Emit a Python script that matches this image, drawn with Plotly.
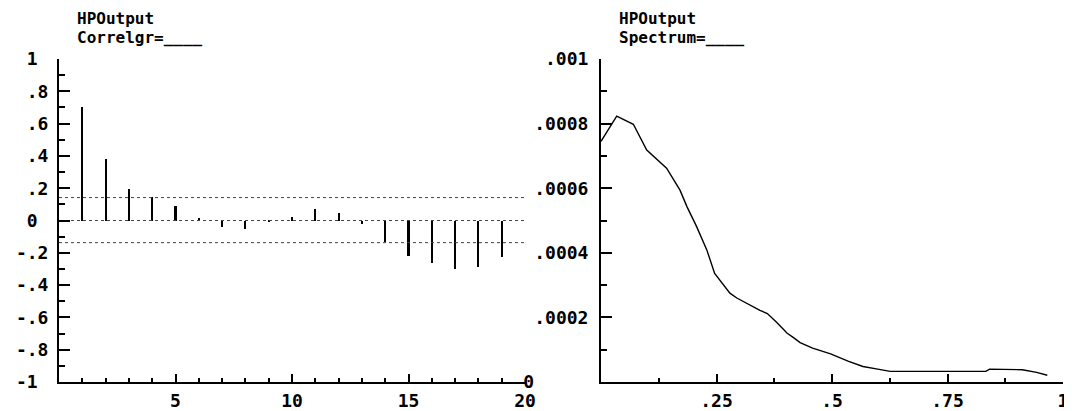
import plotly.graph_objects as go

# ---- data ----
lags = list(range(1, 20))
acf = [0.70, 0.381, 0.192, 0.144, 0.091, 0.016, -0.043, -0.052, -0.004, 0.023,
       0.072, 0.049, -0.021, -0.134, -0.221, -0.266, -0.299, -0.287, -0.229]
band_upper = 0.142
band_lower = -0.137

freq = [0.0, 0.034, 0.070, 0.099, 0.142, 0.171, 0.186, 0.207, 0.229, 0.246,
        0.279, 0.294, 0.344, 0.360, 0.380, 0.403, 0.416, 0.431, 0.458, 0.497,
        0.536, 0.567, 0.599, 0.626, 0.833, 0.841, 0.912, 0.943, 0.966]
spectrum = [0.000745, 0.000823, 0.000798, 0.000718, 0.000662, 0.000594, 0.000543,
            0.000481, 0.000409, 0.000336, 0.000275, 0.000260, 0.000222, 0.000212,
            0.000185, 0.000151, 0.000138, 0.000122, 0.000105, 0.000087, 0.000064,
            0.000048, 0.000040, 0.000033, 0.000033, 0.000040, 0.000038, 0.000030,
            0.000021]

acf_yticks = [1, 0.8, 0.6, 0.4, 0.2, 0, -0.2, -0.4, -0.6, -0.8, -1]
acf_ylabels = ["1\u00a0", ".8", ".6", ".4", ".2", "0\u00a0", "-.2", "-.4", "-.6", "-.8", "-1\u00a0"]
acf_xticks = [5, 10, 15, 20]
acf_xlabels = ["5", "10", "15", "20"]

spec_yticks = [0, 0.0002, 0.0004, 0.0006, 0.0008, 0.001]
spec_ylabels = ["0" + "\u00a0" * 5, ".0002", ".0004", ".0006", ".0008", ".001"]
spec_xticks = [0.25, 0.5, 0.75, 1]
spec_xlabels = [".25", ".5", ".75", "1"]

title_left = ["HPOutput", "Correlgr=____"]
title_right = ["HPOutput", "Spectrum=____"]

# ---- figure ----
# the page body has an 8px margin, so the figure is drawn 8px in from the window corner
OFF = 8
W, H = 1072 - OFF, 411 - OFF
FONT = dict(family="DejaVu Sans Mono", size=18, color="black", weight="bold")
TFONT = dict(family="DejaVu Sans Mono", size=16, color="black", weight="bold")

def px_x(p):
    return (p - OFF) / W

def px_y(p):
    return 1 - (p - OFF) / H

fig = go.Figure()

fig.add_trace(go.Bar(x=lags, y=acf, width=0.09, marker=dict(color="black", line=dict(width=0)),
                     xaxis="x", yaxis="y", showlegend=False))
for yv in [band_upper, 0, band_lower]:
    fig.add_trace(go.Scatter(x=[0, 20], y=[yv, yv], mode="lines",
                             line=dict(color="#444444", width=1, dash="dot"),
                             xaxis="x", yaxis="y", showlegend=False))

fig.add_trace(go.Scatter(x=freq, y=spectrum, mode="lines",
                         line=dict(color="black", width=1.4),
                         xaxis="x2", yaxis="y2", showlegend=False))

ydom = [px_y(382), px_y(59)]
common = dict(showgrid=False, zeroline=False, showline=True, linecolor="black", linewidth=2,
              ticks="inside", tickcolor="black", tickwidth=2, tickfont=FONT, automargin=False)

fig.update_layout(
    width=W, height=H, margin=dict(l=0, r=0, t=0, b=0, pad=0, autoexpand=False),
    paper_bgcolor="white", plot_bgcolor="white", bargap=0,
    xaxis=dict(domain=[px_x(59), px_x(525)], range=[0, 20], anchor="y",
               tickvals=acf_xticks, ticktext=acf_xlabels, ticklen=8, ticklabelstandoff=1,
               minor=dict(tickvals=list(range(1, 20)), ticklen=4, ticks="inside",
                          tickcolor="black", tickwidth=2),
               **common),
    yaxis=dict(domain=ydom, range=[-1, 1], anchor="x",
               tickvals=acf_yticks, ticktext=acf_ylabels, ticklen=11, ticklabelstandoff=5,
               minor=dict(tickvals=[-0.9, -0.7, -0.5, -0.3, -0.1, 0.1, 0.3, 0.5, 0.7, 0.9],
                          ticklen=6, ticks="inside", tickcolor="black", tickwidth=2),
               **common),
    xaxis2=dict(domain=[px_x(601), px_x(1063)], range=[0, 1], anchor="y2",
                tickvals=spec_xticks, ticktext=spec_xlabels, ticklen=8, ticklabelstandoff=1,
                minor=dict(tickvals=[0.125, 0.375, 0.625, 0.875], ticklen=4, ticks="inside",
                           tickcolor="black", tickwidth=2),
                **common),
    yaxis2=dict(domain=ydom, range=[0, 0.001], anchor="x2",
                tickvals=spec_yticks, ticktext=spec_ylabels, ticklen=11, ticklabelstandoff=7,
                minor=dict(tickvals=[0.0001, 0.0003, 0.0005, 0.0007, 0.0009], ticklen=6,
                           ticks="inside", tickcolor="black", tickwidth=2),
                **common),
)

for x0, lines in [(76, title_left), (618, title_right)]:
    for i, t in enumerate(lines):
        fig.add_annotation(text=t, xref="paper", yref="paper", x=px_x(x0), y=px_y(OFF + 19 * i),
                           xanchor="left", yanchor="top", showarrow=False, font=TFONT,
                           borderpad=0)

fig.write_html("out.html")
